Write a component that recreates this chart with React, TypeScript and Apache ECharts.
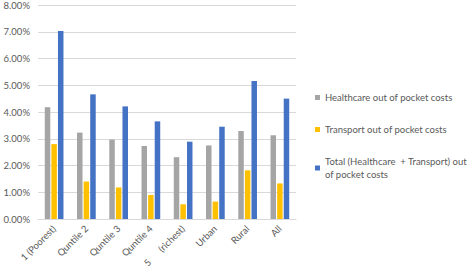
import React, { useEffect, useRef } from "react";
import * as echarts from "echarts";

const categories = ["1 (Poorest)", "Quntile 2", "Quntile 3", "Quntile 4", "5      (richest)", "Urban", "Rural", "All"];
const seriesNames = [
  "Healthcare out of pocket costs",
  "Transport out of pocket costs",
  "Total (Healthcare  + Transport) out of pocket costs",
];
const healthcare = [4.18, 3.23, 2.97, 2.73, 2.31, 2.75, 3.29, 3.13];
const transport = [2.8, 1.4, 1.18, 0.9, 0.55, 0.65, 1.82, 1.33];
const total = [7.03, 4.66, 4.21, 3.65, 2.89, 3.45, 5.16, 4.5];
const colors = ["#A5A5A5", "#FFC000", "#4472C4"];

export default function App() {
  const ref = useRef<HTMLDivElement>(null);
  useEffect(() => {
    const chart = echarts.init(ref.current!, null, { renderer: "svg" });
    const font = "Lato, 'Open Sans', sans-serif";
    chart.setOption({
      animation: false,
      textStyle: { fontFamily: font },
      grid: { left: 38, right: 176, top: 5, bottom: 52 },
      legend: {
        orient: "vertical",
        left: 310,
        top: 86,
        itemWidth: 5,
        itemHeight: 5,
        itemGap: 19,
        icon: "rect",
        data: seriesNames,
        textStyle: { color: "#595959", fontSize: 9.5, fontFamily: font, lineHeight: 13 },
        formatter: (name: string) =>
          name.startsWith("Total") ? "Total (Healthcare  + Transport) out\nof pocket costs" : name,
      },
      xAxis: {
        type: "category",
        data: categories,
        axisLine: { lineStyle: { color: "#D9D9D9" } },
        axisTick: { show: false },
        axisLabel: { rotate: 45, color: "#595959", fontSize: 9.5, fontFamily: font, interval: 0, margin: 8 },
      },
      yAxis: {
        type: "value",
        min: 0,
        max: 8,
        interval: 1,
        axisLine: { show: false },
        axisTick: { show: false },
        splitLine: { lineStyle: { color: "#D9D9D9" } },
        axisLabel: {
          color: "#595959",
          fontSize: 9.5,
          fontFamily: font,
          margin: 8,
          formatter: (v: number) => v.toFixed(2) + "%",
        },
      },
      series: [healthcare, transport, total].map((d, i) => ({
        name: seriesNames[i],
        type: "bar",
        data: d,
        barWidth: 5.5,
        barGap: "20%",
        itemStyle: { color: colors[i] },
      })),
    });
    return () => chart.dispose();
  }, []);
  return <div ref={ref} style={{ position: "absolute", left: 0, top: 0, width: 472, height: 271 }} />;
}
